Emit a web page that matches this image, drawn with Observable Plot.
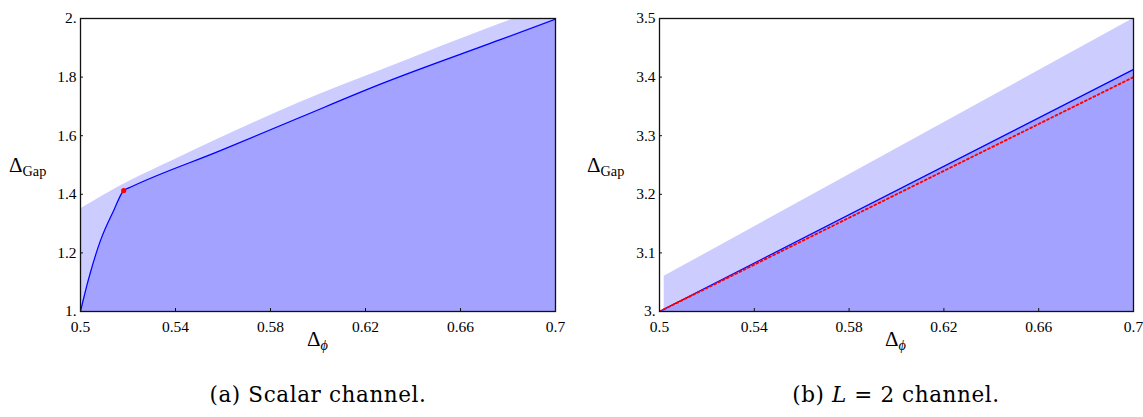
<!DOCTYPE html>
<html><head><meta charset="utf-8">
<script src="https://cdn.jsdelivr.net/npm/d3@7"></script>
<script src="https://cdn.jsdelivr.net/npm/@observablehq/plot@0.6"></script>
<style>
body{margin:0;background:#fff;}
#wrap{position:relative;width:1143px;height:417px;overflow:hidden;}
.panel{position:absolute;top:0;}
.lab{position:absolute;font-family:"Liberation Serif","Times New Roman",serif;color:#000;white-space:nowrap;line-height:1;}
.lab sub{font-size:0.68em;vertical-align:-0.3em;}
.cap{position:absolute;font-family:"DejaVu Serif",serif;font-size:21.5px;letter-spacing:0.6px;color:#000;white-space:nowrap;text-align:center;width:400px;line-height:1;font-weight:300;}
</style></head><body><div id="wrap"></div>
<script>
// ticks
const xTicks = [0.5, 0.54, 0.58, 0.62, 0.66, 0.7];
const xTickLabels = ["0.5", "0.54", "0.58", "0.62", "0.66", "0.7"];
const yTicksA = [1, 1.2, 1.4, 1.6, 1.8, 2];
const yTickLabelsA = ["1.", "1.2", "1.4", "1.6", "1.8", "2."];
const yTicksB = [3, 3.1, 3.2, 3.3, 3.4, 3.5];
const yTickLabelsB = ["3.", "3.1", "3.2", "3.3", "3.4", "3.5"];

// panel (a): scalar channel
const aBoundX = [0.5, 0.51, 0.52, 0.54, 0.5589, 0.5926, 0.6263, 0.6768, 0.7];
const aBoundY = [1.35, 1.398, 1.442, 1.52, 1.592, 1.714, 1.8225, 1.982, 2.052];
const aLineX = [0.5, 0.5011, 0.5025, 0.5042, 0.5084, 0.514, 0.5182, 0.521, 0.5589, 0.5926, 0.6263, 0.6768, 0.7];
const aLineY = [1.0, 1.0375, 1.083, 1.134, 1.242, 1.345, 1.413, 1.424, 1.549, 1.663, 1.776, 1.928, 1.998];
const aDotX = [0.5182];
const aDotY = [1.413];

// panel (b): L = 2 channel
const bBoundX = [0.502, 0.7];
const bBoundY = [3.06, 3.5];
const bLineX = [0.5, 0.7];
const bLineY = [3.0, 3.413];
const bUnitX = [0.5, 0.7];
const bUnitY = [3.0, 3.4];

const zip = (xs, ys) => xs.map((x, i) => ({x, y: ys[i]}));
const FONT = '"Liberation Serif", "Times New Roman", serif';

function panel({bound, line, yDomain, yTicks, yLabels, width, marginLeft, marginRight, extra}) {
  const xmap = new Map(xTicks.map((t, i) => [t, xTickLabels[i]]));
  const ymap = new Map(yTicks.map((t, i) => [t, yLabels[i]]));
  return Plot.plot({
    width, height: 356,
    marginLeft, marginRight, marginTop: 18, marginBottom: 45,
    style: {fontFamily: FONT, fontSize: "15.5px", color: "#000", background: "#fff"},
    x: {domain: [0.5, 0.7], label: null},
    y: {domain: yDomain, label: null},
    marks: [
      Plot.areaY(bound, {x: "x", y1: yDomain[0], y2: "y", fill: "#ccccff", curve: "monotone-x", clip: true}),
      Plot.areaY(line, {x: "x", y1: yDomain[0], y2: "y", fill: "#a3a3ff", curve: "monotone-x", clip: true}),
      Plot.line(line, {x: "x", y: "y", stroke: "#0000ff", strokeWidth: 1.2, curve: "monotone-x", clip: true}),
      ...extra,
      Plot.frame({stroke: "#111", strokeWidth: 1.3}),
      Plot.axisX({ticks: xTicks, tickFormat: d => xmap.get(d), tickSize: -3, tickPadding: 12, stroke: "#111", fontFamily: FONT}),
      Plot.axisY({ticks: yTicks, tickFormat: d => ymap.get(d), tickSize: -3, tickPadding: 7, stroke: "#111", fontFamily: FONT})
    ]
  });
}

const wrap = document.getElementById("wrap");

const pa = panel({
  bound: zip(aBoundX, aBoundY), line: zip(aLineX, aLineY),
  yDomain: [1, 2], yTicks: yTicksA, yLabels: yTickLabelsA,
  width: 571, marginLeft: 80, marginRight: 16,
  extra: [Plot.dot(zip(aDotX, aDotY), {x: "x", y: "y", r: 2.6, fill: "#ff0000", stroke: "none"})]
});
pa.classList.add("panel"); pa.style.left = "0px";
wrap.appendChild(pa);

const pb = panel({
  bound: zip(bBoundX, bBoundY), line: zip(bLineX, bLineY),
  yDomain: [3, 3.5], yTicks: yTicksB, yLabels: yTickLabelsB,
  width: 572, marginLeft: 88, marginRight: 10,
  extra: [Plot.line(zip(bUnitX, bUnitY), {x: "x", y: "y", stroke: "#ff0000", strokeWidth: 1.9, strokeDasharray: "1.9,2.8", clip: true})]
});
pb.classList.add("panel"); pb.style.left = "571px";
wrap.appendChild(pb);

function addHTML(html, cls, style) {
  const d = document.createElement("div");
  d.className = cls; d.innerHTML = html;
  Object.assign(d.style, style);
  wrap.appendChild(d);
}
addHTML("Δ<sub>Gap</sub>", "lab", {left: "9px", top: "155px", fontSize: "21px"});
addHTML("Δ<sub>Gap</sub>", "lab", {left: "587px", top: "155px", fontSize: "21px"});
addHTML("Δ<sub><i>ϕ</i></sub>", "lab", {left: "307px", top: "329px", fontSize: "21px"});
addHTML("Δ<sub><i>ϕ</i></sub>", "lab", {left: "885px", top: "329px", fontSize: "21px"});
addHTML("(a) Scalar channel.", "cap", {left: "118px", top: "384px"});
addHTML("(b) <i>L</i> = 2 channel.", "cap", {left: "696px", top: "384px"});
</script>
</body></html>
